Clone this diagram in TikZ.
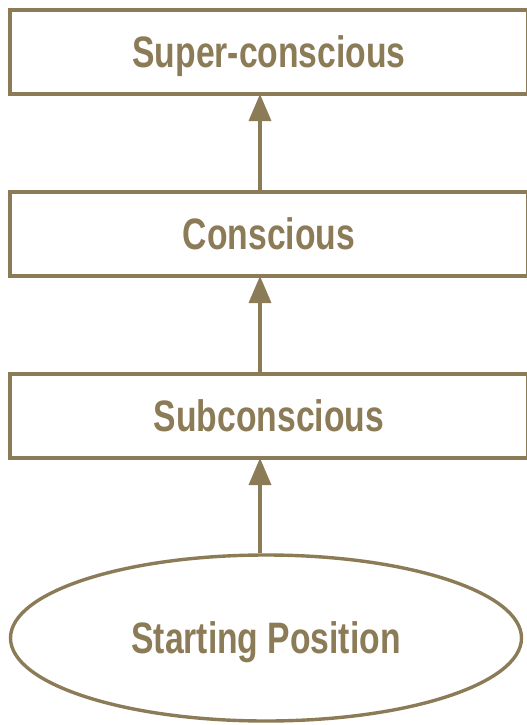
\documentclass[tikz,border=0pt]{standalone}
\usepackage{fontspec}
\setmainfont{Liberation Sans}[FakeStretch=0.765]
\usetikzlibrary{shapes.geometric,arrows.meta}
\definecolor{bronze}{RGB}{140,123,87}
\tikzset{
  label font/.style={text=bronze, text depth=0pt, font=\fontsize{44}{50}\selectfont\bfseries},
  level/.style={draw=bronze, line width=3.8pt, rectangle, minimum width=518pt,
    minimum height=84pt, inner sep=0pt, label font},
  origin/.style={draw=bronze, line width=3.4pt, ellipse, minimum width=511pt,
    minimum height=166pt, inner sep=0pt, label font},
  rise/.style={draw=bronze, line width=3.4pt, -{Triangle[width=22pt,length=27pt]}}
}
\begin{document}
\begin{tikzpicture}[x=1pt,y=-1pt]
  \useasboundingbox (0,0) rectangle (527,725);
  \clip (0,0) rectangle (527,725);
  \fill[white] (0,0) rectangle (527,725);
  % the three stacked levels and the starting ellipse
  \node[level] (super) at (269,52) {Super-conscious};
  \node[level] (consc) at (269,234) {Conscious};
  \node[level] (sub)   at (269,416) {Subconscious};
  \node[origin] (start) at (266,638) {Starting Position};
  % vertical axis of the arrows
  \coordinate (ax) at (260,0);
  \draw[rise] (ax |- start.north) -- ([yshift=1.9pt]ax |- sub.south);
  \draw[rise] (ax |- sub.north) -- ([yshift=1.9pt]ax |- consc.south);
  \draw[rise] (ax |- consc.north) -- ([yshift=1.9pt]ax |- super.south);
\end{tikzpicture}
\end{document}
